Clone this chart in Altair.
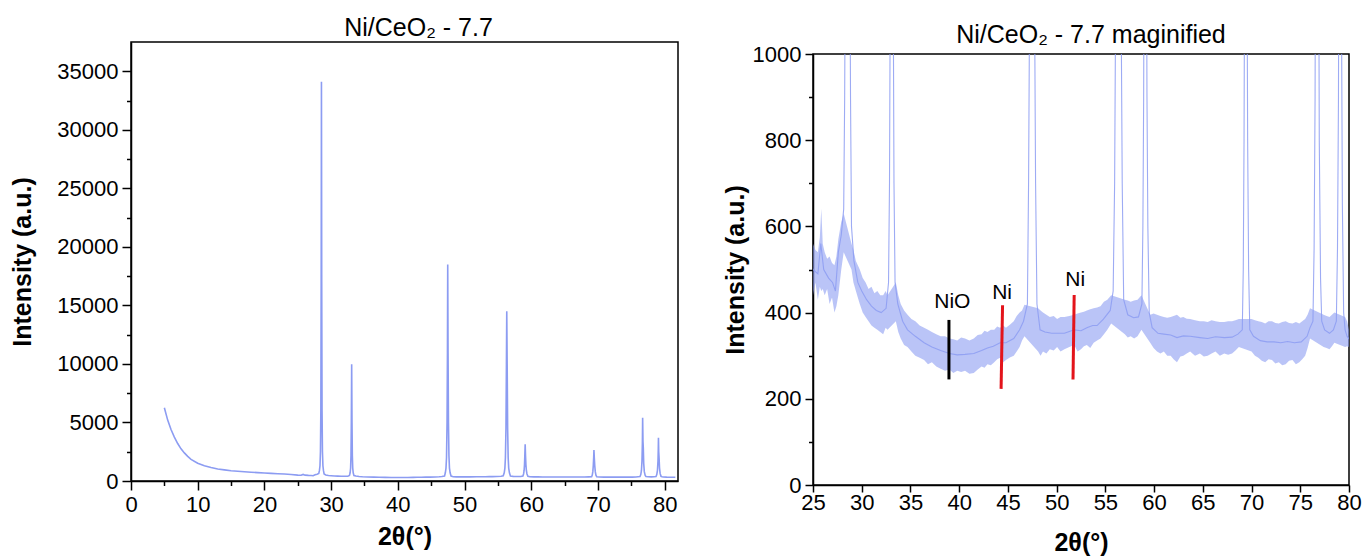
import altair as alt
import pandas as pd

# ---------------- data ----------------
# smooth background of the XRD pattern (2theta in degrees, intensity in a.u.)
bg_theta = [5.0, 5.5, 6.0, 6.5, 7.0, 7.5, 8.0, 8.5, 9.0, 10.0, 11.0, 12.0, 13.0, 14.0, 15.0,
            16.0, 17.0, 18.0, 19.0, 20.0, 21.0, 22.0, 23.0, 24.0, 25.0, 25.5, 25.8, 26.1, 26.6,
            27.0, 27.3, 27.6, 27.9,
            29.2, 29.6, 30.0, 30.5, 31.0, 31.5, 32.0, 32.5,
            33.7, 34.2, 34.7, 35.5, 36.4, 37.2, 38.1, 39.0, 39.8, 40.6, 41.5, 42.3, 42.9, 43.5,
            44.2, 44.8, 45.6, 46.2, 46.6,
            48.3, 48.8, 49.5, 50.05, 50.8, 51.8, 52.5, 53.1, 53.7, 54.15, 54.8, 55.5,
            57.3, 57.9, 58.4,
            59.8, 60.4, 61.0, 61.7, 62.35, 63.0, 63.7, 64.7, 65.5, 66.3, 67.2, 68.0, 68.6,
            70.2, 70.9, 71.6, 72.3, 73.0, 73.7, 74.4, 75.1, 75.7, 76.0,
            77.5, 78.0, 78.4,
            79.8, 80.3, 81.0, 81.6]
bg_int = [6250, 5200, 4400, 3750, 3200, 2750, 2400, 2100, 1850, 1520, 1300, 1150, 1030, 950, 880,
          830, 790, 750, 715, 685, 655, 625, 595, 560, 500, 490, 560, 500, 480,
          470, 450, 540, 580,
          520, 470, 450, 430, 415, 405, 400, 410,
          420, 380, 360, 345, 330, 320, 312, 305, 302, 303, 305, 312, 318, 322,
          330, 330, 340, 360, 380,
          360, 355, 352, 352, 352, 360, 358, 365, 370, 370, 385, 405,
          395, 388, 390,
          365, 352, 350, 348, 342, 346, 345, 342, 340, 344, 342, 343, 350,
          345, 335, 332, 332, 330, 333, 330, 332, 345, 365,
          360, 352, 360,
          345, 330, 322, 320]

# diffraction peaks (CeO2 reflections)
peak_28_theta = [28.15, 28.25, 28.33, 28.40, 28.46, 28.51, 28.55, 28.59, 28.64, 28.70, 28.77, 28.85, 28.95]
peak_28_int = [640, 900, 1300, 2500, 6000, 17000, 34100, 17000, 6000, 2500, 1300, 900, 600]
peak_33_theta = [32.75, 32.85, 32.92, 32.98, 33.03, 33.08, 33.13, 33.18, 33.24, 33.31, 33.42]
peak_33_int = [470, 700, 1100, 2200, 5000, 9970, 5000, 2200, 1100, 700, 470]
peak_47_theta = [47.00, 47.12, 47.22, 47.30, 47.38, 47.44, 47.48, 47.53, 47.59, 47.66, 47.74, 47.84, 47.98]
peak_47_int = [420, 700, 1100, 2000, 5000, 11000, 18500, 11000, 5000, 2200, 1100, 700, 420]
peak_56_theta = [55.80, 55.95, 56.05, 56.13, 56.21, 56.28, 56.33, 56.39, 56.46, 56.54, 56.62, 56.73, 56.88]
peak_56_int = [450, 700, 1100, 2000, 4500, 10000, 14500, 10000, 4500, 2000, 1100, 700, 430]
peak_59_theta = [58.75, 58.85, 58.93, 58.99, 59.04, 59.09, 59.14, 59.20, 59.27, 59.36, 59.50]
peak_59_int = [420, 600, 900, 1400, 2200, 3130, 2200, 1400, 900, 600, 400]
peak_69_theta = [69.05, 69.15, 69.23, 69.30, 69.36, 69.40, 69.45, 69.52, 69.60, 69.70, 69.82]
peak_69_int = [360, 500, 800, 1300, 2000, 2650, 2000, 1300, 800, 500, 360]
peak_76_theta = [76.30, 76.42, 76.52, 76.60, 76.66, 76.70, 76.75, 76.80, 76.86, 76.95, 77.08, 77.20]
peak_76_int = [380, 550, 900, 1700, 3200, 5400, 3400, 2800, 1500, 800, 480, 380]
peak_79_theta = [78.70, 78.82, 78.92, 79.00, 79.04, 79.07, 79.11, 79.16, 79.23, 79.32, 79.45, 79.60]
peak_79_int = [380, 550, 900, 1700, 2600, 3700, 2500, 2000, 1100, 650, 400, 360]

# noise envelope of the magnified trace: (2theta, lower edge, upper edge)
band_points = [
    (25.0, 440, 560), (25.25, 470, 545), (25.5, 430, 540), (25.7, 460, 575), (25.85, 450, 641),
    (26.0, 455, 560), (26.2, 440, 540), (26.45, 455, 525), (26.7, 420, 530), (26.95, 435, 515),
    (27.2, 400, 510), (27.4, 415, 530), (27.6, 440, 570), (27.9, 500, 610), (28.15, 540, 630),
    (28.95, 500, 560), (29.15, 470, 545), (29.4, 450, 520), (29.6, 435, 510), (29.8, 420, 500),
    (30.1, 400, 480), (30.4, 390, 470), (30.7, 380, 455), (31.0, 370, 460), (31.3, 365, 445),
    (31.6, 360, 450), (31.9, 355, 440), (32.2, 350, 440), (32.45, 365, 450), (32.65, 360, 440),
    (33.5, 380, 470), (33.75, 355, 440), (34.0, 340, 420), (34.35, 325, 405), (34.7, 320, 395),
    (35.1, 310, 385), (35.5, 300, 380), (35.95, 295, 370), (36.4, 290, 365), (36.8, 280, 360),
    (37.2, 285, 355), (37.65, 275, 350), (38.1, 270, 345), (38.55, 265, 345), (39.0, 268, 340),
    (39.4, 260, 338), (39.8, 265, 335), (40.2, 262, 342), (40.6, 265, 340), (41.05, 258, 335),
    (41.5, 260, 340), (41.9, 268, 348), (42.3, 275, 350), (42.6, 272, 358), (42.9, 280, 355),
    (43.25, 278, 360), (43.6, 285, 360), (43.9, 292, 368), (44.2, 295, 365), (44.5, 285, 370),
    (44.8, 290, 365), (45.2, 296, 372), (45.6, 300, 380), (45.9, 310, 392), (46.2, 320, 400),
    (46.45, 335, 405), (46.7, 345, 418), (48.1, 310, 410), (48.35, 300, 405), (48.6, 310, 400),
    (48.95, 305, 395), (49.3, 315, 390), (49.7, 312, 392), (50.05, 320, 385), (50.4, 310, 390),
    (50.8, 315, 390), (51.3, 320, 392), (51.8, 325, 395), (52.15, 310, 398), (52.5, 315, 400),
    (52.8, 322, 402), (53.1, 325, 405), (53.45, 318, 408), (53.8, 330, 410), (54.15, 335, 412),
    (54.5, 340, 415), (54.85, 350, 425), (55.2, 360, 430), (55.6, 375, 440), (57.0, 350, 430),
    (57.3, 342, 428), (57.6, 345, 425), (57.95, 340, 428), (58.3, 345, 430), (58.7, 360, 440),
    (59.6, 330, 395), (59.95, 318, 398), (60.3, 310, 395), (60.65, 305, 392), (61.0, 310, 390),
    (61.35, 300, 388), (61.7, 300, 390), (62.0, 292, 392), (62.35, 285, 395), (62.7, 298, 388),
    (63.0, 300, 390), (63.35, 305, 386), (63.7, 310, 385), (64.2, 300, 382), (64.7, 305, 380),
    (65.1, 298, 380), (65.5, 300, 378), (65.9, 305, 382), (66.3, 310, 380), (66.75, 300, 378),
    (67.2, 305, 378), (67.6, 302, 380), (68.0, 305, 380), (68.35, 312, 382), (68.7, 320, 385),
    (70.0, 310, 385), (70.35, 300, 382), (70.7, 295, 380), (71.05, 288, 378), (71.4, 285, 375),
    (71.75, 292, 380), (72.1, 290, 380), (72.45, 282, 376), (72.8, 285, 375), (73.15, 278, 378),
    (73.5, 280, 380), (73.85, 288, 376), (74.2, 290, 375), (74.55, 280, 378), (74.9, 285, 375),
    (75.2, 292, 380), (75.5, 300, 385), (75.75, 318, 395), (76.0, 340, 410), (77.4, 320, 395),
    (77.7, 318, 392), (78.0, 315, 390), (78.25, 322, 395), (78.5, 330, 400), (79.6, 320, 390),
    (79.8, 322, 380), (80.0, 320, 360),
]

# phase markers in the magnified panel
marker_name = ["NiO", "Ni", "Ni"]
marker_color = ["black", "#e3141b", "#e3141b"]
marker_theta_top = [38.95, 44.45, 51.80]
marker_int_top = [383, 417, 441]
marker_theta_bottom = [38.95, 44.30, 51.68]
marker_int_bottom = [245, 223, 245]
label_theta = [39.3, 44.4, 51.9]
label_int = [424, 445, 475]

# ---------------- tables ----------------
thetas = list(bg_theta)
ints = list(bg_int)
for px, py in [(peak_28_theta, peak_28_int), (peak_33_theta, peak_33_int),
               (peak_47_theta, peak_47_int), (peak_56_theta, peak_56_int),
               (peak_59_theta, peak_59_int), (peak_69_theta, peak_69_int),
               (peak_76_theta, peak_76_int), (peak_79_theta, peak_79_int)]:
    thetas += px
    ints += py
trace = pd.DataFrame({"theta": thetas, "intensity": ints}).sort_values("theta").reset_index(drop=True)
trace["order"] = range(len(trace))
band = pd.DataFrame(band_points, columns=["theta", "low", "high"])
markers = pd.DataFrame({"name": marker_name, "color": marker_color,
                        "x1": marker_theta_top, "y1": marker_int_top,
                        "x2": marker_theta_bottom, "y2": marker_int_bottom,
                        "lx": label_theta, "ly": label_int})

FONT = "Liberation Sans"
LINE = "#8c9cf2"
FRAME = alt.ViewBackground(stroke="black", strokeWidth=1.5)


def axis(values, major_test, title, major_size, title_pad, label_pad):
    return alt.Axis(
        values=values, format="d" if all(float(v).is_integer() for v in values) else "",
        labelExpr=f"{major_test} ? datum.label : ''",
        tickSize={"condition": {"test": major_test, "value": major_size}, "value": 4.5},
        tickColor="black", tickWidth=1.5, domainColor="black", domainWidth=1.5,
        labelColor="black", labelFont=FONT, labelFontSize=22, labelFlush=False,
        labelOverlap=False, labelPadding=label_pad, grid=False,
        title=title, titleFont=FONT, titleFontSize=25, titleFontWeight="bold",
        titleColor="black", titlePadding=title_pad)


def spacer(h):
    return alt.Chart(pd.DataFrame({"s": [0]})).mark_rule(opacity=0).encode(
        x=alt.value(0), x2=alt.value(1), y=alt.value(0)
    ).properties(width=1, height=h, view=alt.ViewBackground(stroke="transparent"))


# ---------------- left panel ----------------
lx = alt.X("theta:Q", scale=alt.Scale(domain=[0, 82], nice=False, zero=False),
           axis=axis([v * 5 for v in range(17)], "datum.value % 10 === 0", "2θ(°)", 9, 9, 4))
ly = alt.Y("intensity:Q", scale=alt.Scale(domain=[0, 37500], nice=False),
           axis=axis([v * 2500 for v in range(15)], "datum.value % 5000 === 0",
                     "Intensity (a.u.)", 9, 21, 4))
left = alt.Chart(trace).mark_line(color=LINE, strokeWidth=1.6, clip=True).encode(
    x=lx, y=ly, order="order:Q"
).properties(width=547, height=439, view=FRAME,
             title=alt.TitleParams("Ni/CeO₂ - 7.7", font=FONT, fontSize=25,
                                   fontWeight="normal", color="black", offset=1,
                                   frame="group", dx=14))

# ---------------- right panel ----------------
rxs = alt.Scale(domain=[25, 80], nice=False, zero=False)
rys = alt.Scale(domain=[0, 1000], nice=False)
rx_axis = axis([25 + 2.5 * v for v in range(23)], "datum.value % 5 === 0", "2θ(°)", 7, 17, 0)
ry_axis = axis([v * 100 for v in range(11)], "datum.value % 200 === 0",
               "Intensity (a.u.)", 8, 4, 4)

band_layer = alt.Chart(band).mark_area(color=LINE, opacity=0.6, clip=True).encode(
    x=alt.X("theta:Q", scale=rxs, axis=rx_axis),
    y=alt.Y("low:Q", scale=rys, axis=ry_axis),
    y2="high:Q")
line_layer = alt.Chart(trace).mark_line(color=LINE, strokeWidth=1.1, opacity=0.85,
                                        clip=True).encode(
    x=alt.X("theta:Q", scale=rxs), y=alt.Y("intensity:Q", scale=rys), order="order:Q")
marker_layer = alt.Chart(markers).mark_rule(strokeWidth=3).encode(
    x=alt.X("x1:Q", scale=rxs), y=alt.Y("y1:Q", scale=rys),
    x2="x2:Q", y2="y2:Q",
    color=alt.Color("color:N", scale=None))
label_layer = alt.Chart(markers).mark_text(font=FONT, fontSize=21, color="black",
                                           baseline="middle", align="center").encode(
    x=alt.X("lx:Q", scale=rxs), y=alt.Y("ly:Q", scale=rys), text="name:N")

right = alt.layer(band_layer, line_layer, marker_layer, label_layer).properties(
    width=536, height=431, view=FRAME,
    title=alt.TitleParams("Ni/CeO₂ - 7.7 maginified", font=FONT, fontSize=25,
                          fontWeight="normal", color="black", offset=-5,
                          frame="group", dx=10))

left_col = alt.vconcat(spacer(13), left, spacing=0)
right_col = alt.vconcat(spacer(20), right, spacing=0)

chart = alt.hconcat(left_col, right_col, spacing=43).properties(
    padding={"left": 10, "top": 0, "right": 5, "bottom": 2},
    background="white"
).configure_view(stroke="transparent")

chart.save("out.html", embed_options={"renderer": "svg", "actions": False})
